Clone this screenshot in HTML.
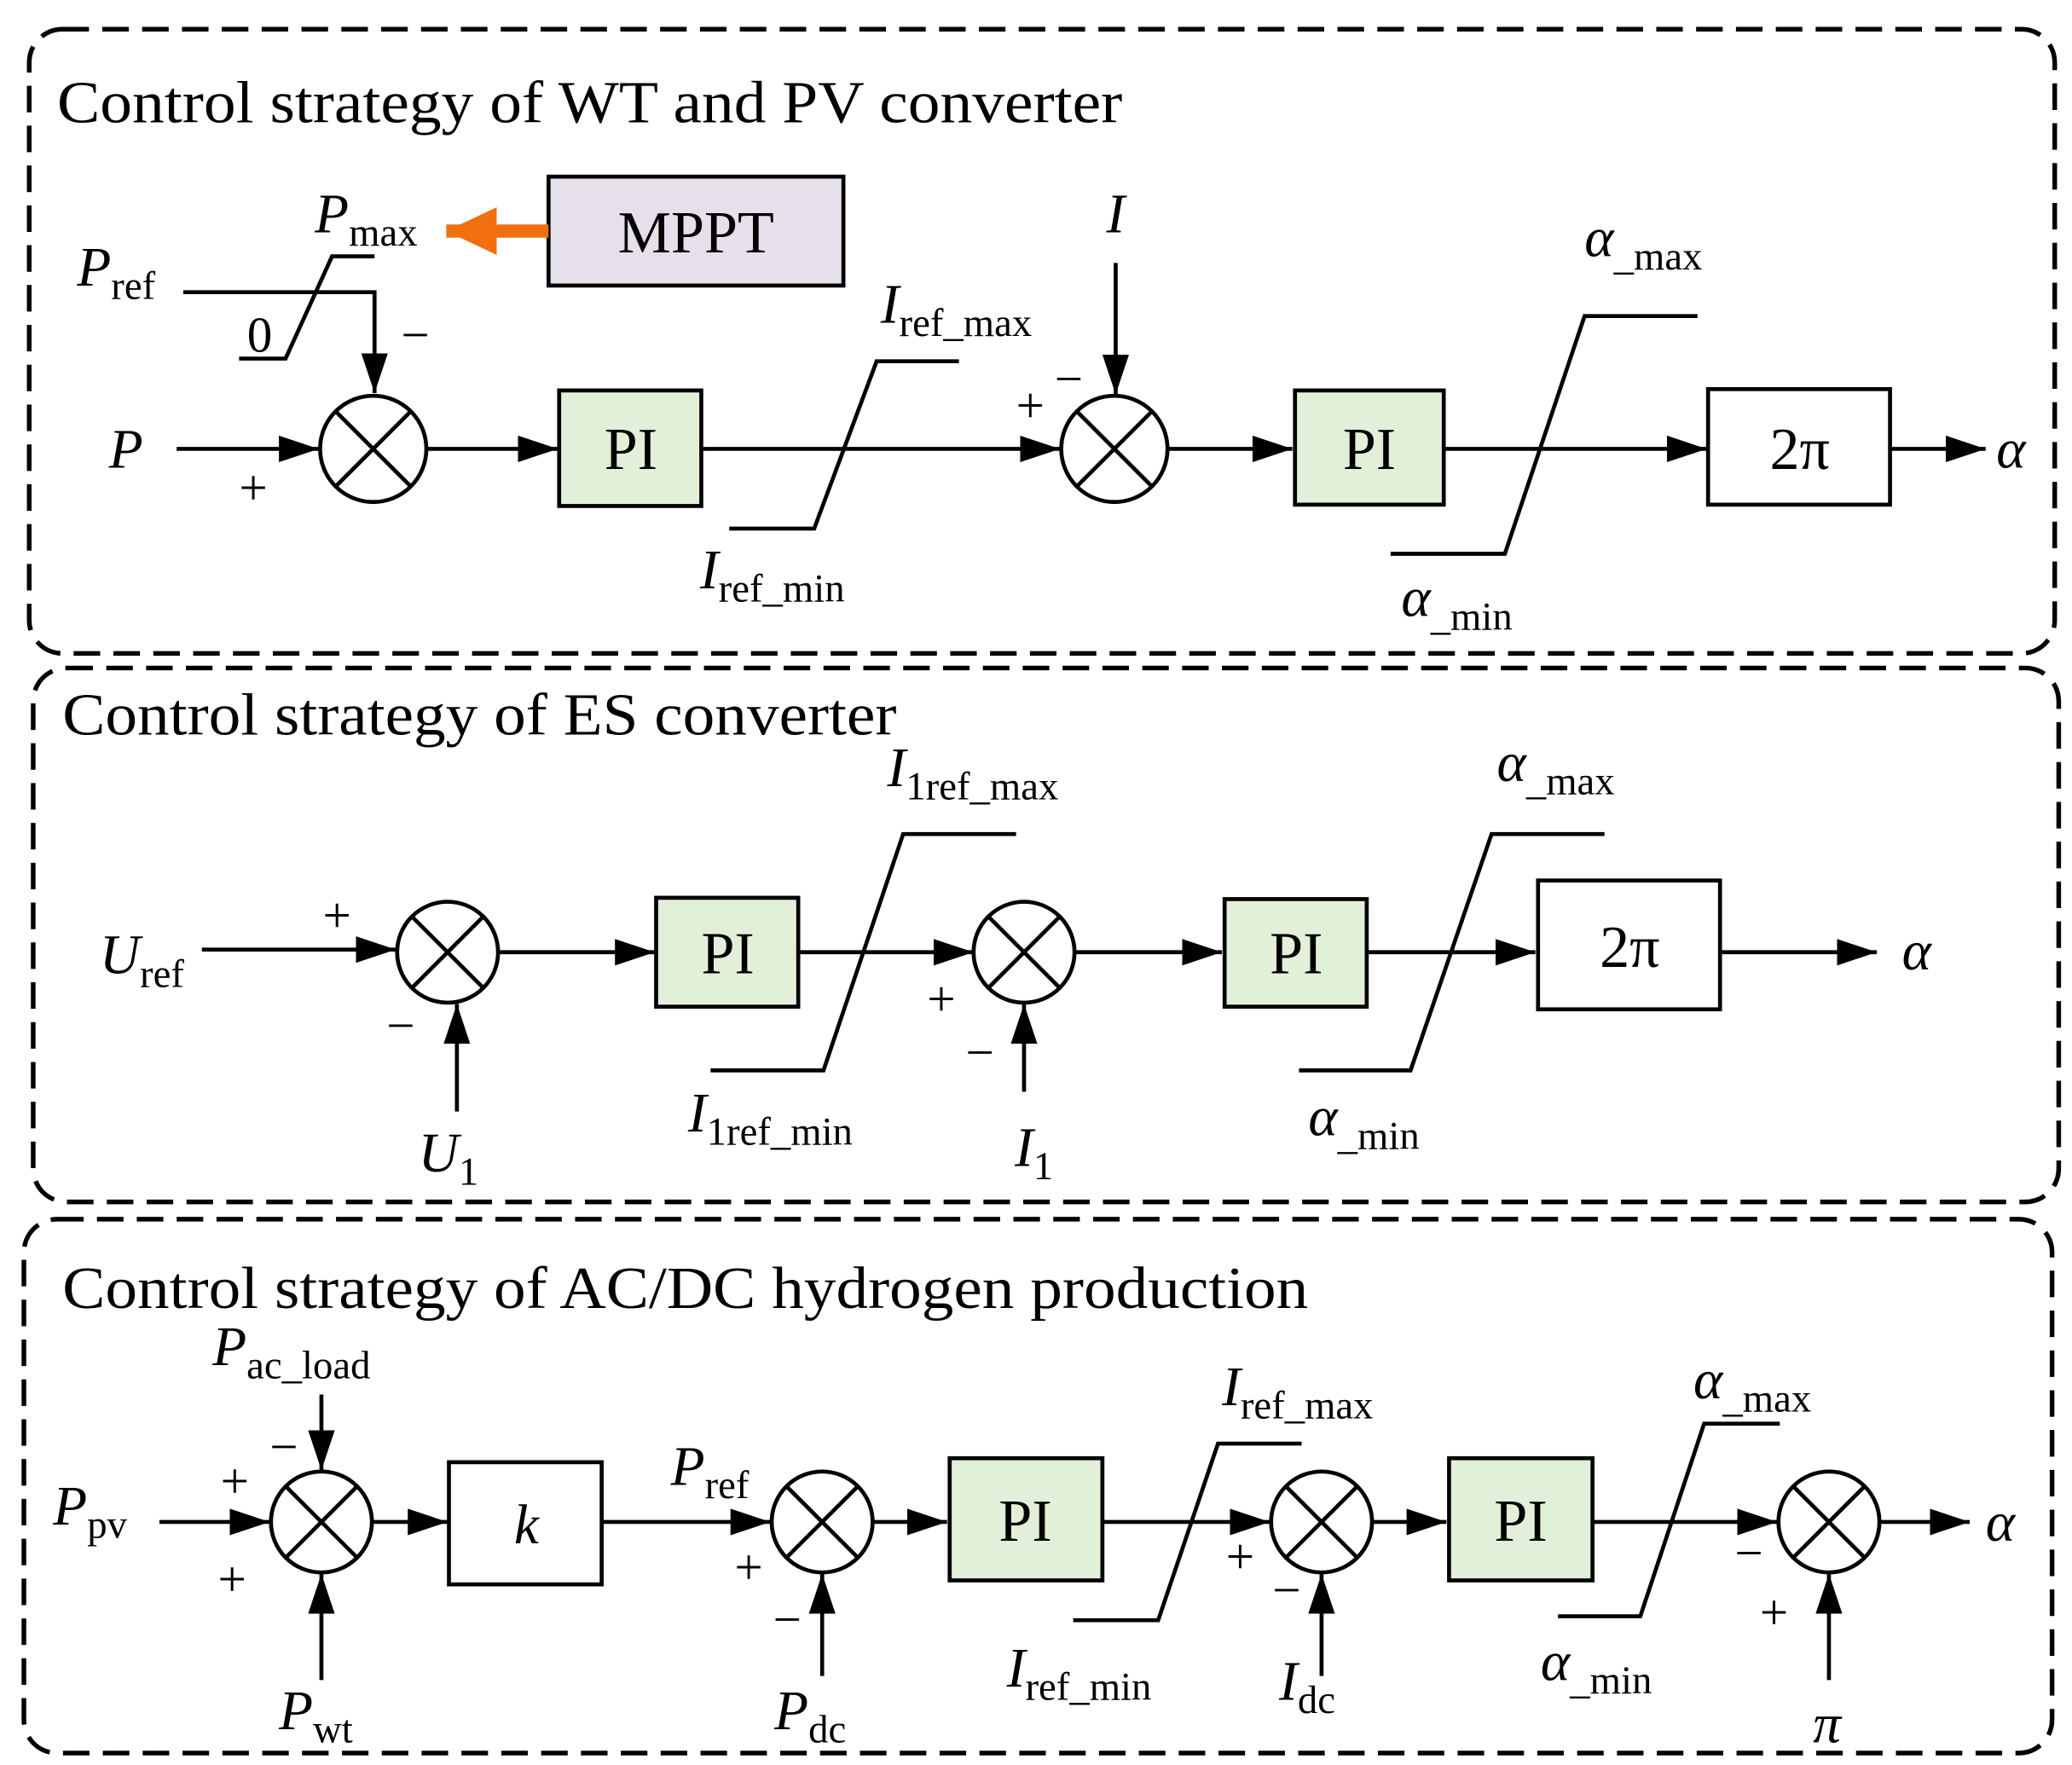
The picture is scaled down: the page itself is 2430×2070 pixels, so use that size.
<!DOCTYPE html>
<html><head><meta charset="utf-8"><style>
html,body{margin:0;padding:0;background:#fff;}
svg{display:block;}
text{font-family:"Liberation Serif",serif;fill:#000;}
.t{font-size:45px;}
.l{font-size:42px;font-style:italic;}
.s{font-size:30px;font-style:normal;}
.p{font-size:38px;}
</style></head><body>
<svg width="2430" height="2070" viewBox="0 0 1560 1329" preserveAspectRatio="none" xmlns="http://www.w3.org/2000/svg">
<defs>
<marker id="a" markerUnits="userSpaceOnUse" markerWidth="32" markerHeight="20" refX="30" refY="10" orient="auto">
<path d="M0,0 L30,10 L0,20 Z" fill="#000"/></marker>
<marker id="o" markerUnits="userSpaceOnUse" markerWidth="40" markerHeight="36" refX="38" refY="18" orient="auto">
<path d="M0,0 L38,18 L0,36 Z" fill="#f07010"/></marker>
</defs>
<g fill="none" stroke="#000" stroke-width="3.5" stroke-dasharray="20,10">
<rect x="22" y="22" width="1525" height="470" rx="25"/>
<rect x="25" y="503" width="1525" height="402" rx="25"/>
<rect x="18" y="918" width="1527" height="402" rx="25"/>
</g>
<text class="t" x="43" y="92" textLength="802" lengthAdjust="spacingAndGlyphs">Control strategy of WT and PV converter</text>
<text class="t" x="47" y="553" textLength="628" lengthAdjust="spacingAndGlyphs">Control strategy of ES converter</text>
<text class="t" x="47" y="985" textLength="938" lengthAdjust="spacingAndGlyphs">Control strategy of AC/DC hydrogen production</text>

<g stroke="#000" stroke-width="3" fill="none">
<rect x="413" y="133" width="222" height="82" fill="#e6e0ea"/>
<line x1="413" y1="174" x2="336" y2="174" stroke="#f07010" stroke-width="10" marker-end="url(#o)"/>
<polyline points="138,220 282,220 282,296" marker-end="url(#a)"/>
<polyline points="180,270 215,270 250,193 282,193"/>
<circle cx="281" cy="338" r="40" fill="#fff"/>
<path d="M253,310 L309,366 M309,310 L253,366"/>
<line x1="133" y1="338" x2="240" y2="338" marker-end="url(#a)"/>
<line x1="321" y1="338" x2="420" y2="338" marker-end="url(#a)"/>
<rect x="421" y="294" width="107" height="87" fill="#e2efd9"/>
<line x1="528" y1="338" x2="798" y2="338" marker-end="url(#a)"/>
<polyline points="549,398 613,398 660,272 722,272"/>
<line x1="840" y1="198" x2="840" y2="297" marker-end="url(#a)"/>
<circle cx="839" cy="338" r="40" fill="#fff"/>
<path d="M811,310 L867,366 M867,310 L811,366"/>
<line x1="879" y1="338" x2="973" y2="338" marker-end="url(#a)"/>
<rect x="975" y="294" width="112" height="86" fill="#e2efd9"/>
<line x1="1087" y1="338" x2="1285" y2="338" marker-end="url(#a)"/>
<polyline points="1047,417 1133,417 1193,238 1278,238"/>
<rect x="1286" y="293" width="137" height="87"/>
<line x1="1423" y1="338" x2="1495" y2="338" marker-end="url(#a)"/>
<line x1="152" y1="715" x2="298" y2="715" marker-end="url(#a)"/>
<circle cx="337" cy="717" r="38" fill="#fff"/>
<path d="M310,690 L364,744 M364,690 L310,744"/>
<line x1="344" y1="837" x2="344" y2="756" marker-end="url(#a)"/>
<line x1="375" y1="717" x2="493" y2="717" marker-end="url(#a)"/>
<rect x="494" y="676" width="107" height="82" fill="#e2efd9"/>
<line x1="601" y1="717" x2="733" y2="717" marker-end="url(#a)"/>
<polyline points="535,806 620,806 680,628 765,628"/>
<circle cx="771" cy="717" r="38" fill="#fff"/>
<path d="M744,690 L798,744 M798,690 L744,744"/>
<line x1="771" y1="822" x2="771" y2="756" marker-end="url(#a)"/>
<line x1="809" y1="717" x2="920" y2="717" marker-end="url(#a)"/>
<rect x="922" y="677" width="107" height="81" fill="#e2efd9"/>
<line x1="1029" y1="717" x2="1156" y2="717" marker-end="url(#a)"/>
<polyline points="978,806 1062,806 1123,628 1208,628"/>
<rect x="1158" y="663" width="137" height="97"/>
<line x1="1295" y1="717" x2="1413" y2="717" marker-end="url(#a)"/>
<line x1="120" y1="1146" x2="203" y2="1146" marker-end="url(#a)"/>
<circle cx="242" cy="1146" r="38" fill="#fff"/>
<path d="M215,1119 L269,1173 M269,1119 L215,1173"/>
<line x1="242" y1="1050" x2="242" y2="1107" marker-end="url(#a)"/>
<line x1="242" y1="1265" x2="242" y2="1185" marker-end="url(#a)"/>
<line x1="280" y1="1146" x2="337" y2="1146" marker-end="url(#a)"/>
<rect x="338" y="1101" width="115" height="92"/>
<line x1="453" y1="1146" x2="580" y2="1146" marker-end="url(#a)"/>
<circle cx="619" cy="1146" r="38" fill="#fff"/>
<path d="M592,1119 L646,1173 M646,1119 L592,1173"/>
<line x1="619" y1="1262" x2="619" y2="1185" marker-end="url(#a)"/>
<line x1="657" y1="1146" x2="713" y2="1146" marker-end="url(#a)"/>
<rect x="715" y="1098" width="115" height="92" fill="#e2efd9"/>
<line x1="830" y1="1146" x2="956" y2="1146" marker-end="url(#a)"/>
<polyline points="808,1220 872,1220 917,1087 980,1087"/>
<circle cx="995" cy="1146" r="38" fill="#fff"/>
<path d="M968,1119 L1022,1173 M1022,1119 L968,1173"/>
<line x1="995" y1="1262" x2="995" y2="1185" marker-end="url(#a)"/>
<line x1="1033" y1="1146" x2="1089" y2="1146" marker-end="url(#a)"/>
<rect x="1091" y="1098" width="108" height="92" fill="#e2efd9"/>
<line x1="1199" y1="1146" x2="1338" y2="1146" marker-end="url(#a)"/>
<polyline points="1173,1217 1235,1217 1283,1072 1340,1072"/>
<circle cx="1377" cy="1146" r="38" fill="#fff"/>
<path d="M1350,1119 L1404,1173 M1404,1119 L1350,1173"/>
<line x1="1377" y1="1265" x2="1377" y2="1185" marker-end="url(#a)"/>
<line x1="1415" y1="1146" x2="1483" y2="1146" marker-end="url(#a)"/>
</g>

<text class="t" x="524" y="190" text-anchor="middle">MPPT</text>
<text class="l" x="237" y="175">P<tspan class="s" dy="10">max</tspan></text>
<text class="l" x="58" y="215">P<tspan class="s" dy="10">ref</tspan></text>
<text class="p" x="186" y="265">0</text>
<text class="p" x="302" y="265">−</text>
<text class="l" x="82" y="352">P</text>
<text class="p" x="180" y="380">+</text>
<text class="t" x="475" y="353" text-anchor="middle">PI</text>
<text class="l" x="663" y="243">I<tspan class="s" dy="10">ref_max</tspan></text>
<text class="l" x="527" y="443">I<tspan class="s" dy="10">ref_min</tspan></text>
<text class="l" x="833" y="175">I</text>
<text class="p" x="765" y="318">+</text>
<text class="p" x="794" y="298">−</text>
<text class="t" x="1031" y="353" text-anchor="middle">PI</text>
<text class="l" x="1193" y="193">α<tspan class="s" dy="10">_max</tspan></text>
<text class="l" x="1055" y="464">α<tspan class="s" dy="10">_min</tspan></text>
<text class="t" x="1355" y="353" text-anchor="middle">2π</text>
<text class="l" x="1503" y="352">α</text>
<text class="l" x="75" y="733">U<tspan class="s" dy="10">ref</tspan></text>
<text class="p" x="243" y="702">+</text>
<text class="p" x="291" y="785">−</text>
<text class="l" x="315" y="882">U<tspan class="s" dy="10">1</tspan></text>
<text class="t" x="548" y="733" text-anchor="middle">PI</text>
<text class="l" x="668" y="592">I<tspan class="s" dy="10">1ref_max</tspan></text>
<text class="l" x="518" y="852">I<tspan class="s" dy="10">1ref_min</tspan></text>
<text class="p" x="698" y="765">+</text>
<text class="p" x="727" y="805">−</text>
<text class="l" x="764" y="878">I<tspan class="s" dy="10">1</tspan></text>
<text class="t" x="976" y="733" text-anchor="middle">PI</text>
<text class="l" x="1127" y="588">α<tspan class="s" dy="10">_max</tspan></text>
<text class="l" x="985" y="855">α<tspan class="s" dy="10">_min</tspan></text>
<text class="t" x="1227" y="728" text-anchor="middle">2π</text>
<text class="l" x="1432" y="730">α</text>
<text class="l" x="40" y="1148">P<tspan class="s" dy="10">pv</tspan></text>
<text class="p" x="166" y="1128">+</text>
<text class="p" x="164" y="1202">+</text>
<text class="l" x="160" y="1028">P<tspan class="s" dy="10">ac_load</tspan></text>
<text class="p" x="203" y="1102">−</text>
<text class="l" x="210" y="1302">P<tspan class="s" dy="10">wt</tspan></text>
<text class="l" x="387" y="1162">k</text>
<text class="l" x="505" y="1118">P<tspan class="s" dy="10">ref</tspan></text>
<text class="p" x="553" y="1193">+</text>
<text class="p" x="582" y="1232">−</text>
<text class="l" x="583" y="1302">P<tspan class="s" dy="10">dc</tspan></text>
<text class="t" x="772" y="1160" text-anchor="middle">PI</text>
<text class="l" x="920" y="1058">I<tspan class="s" dy="10">ref_max</tspan></text>
<text class="l" x="758" y="1270">I<tspan class="s" dy="10">ref_min</tspan></text>
<text class="p" x="923" y="1185">+</text>
<text class="p" x="958" y="1210">−</text>
<text class="l" x="963" y="1280">I<tspan class="s" dy="10">dc</tspan></text>
<text class="t" x="1145" y="1160" text-anchor="middle">PI</text>
<text class="l" x="1275" y="1053">α<tspan class="s" dy="10">_max</tspan></text>
<text class="l" x="1160" y="1265">α<tspan class="s" dy="10">_min</tspan></text>
<text class="p" x="1306" y="1182">−</text>
<text class="p" x="1325" y="1227">+</text>
<text class="l" x="1365" y="1312">π</text>
<text class="l" x="1495" y="1160">α</text>
</svg>
</body></html>
